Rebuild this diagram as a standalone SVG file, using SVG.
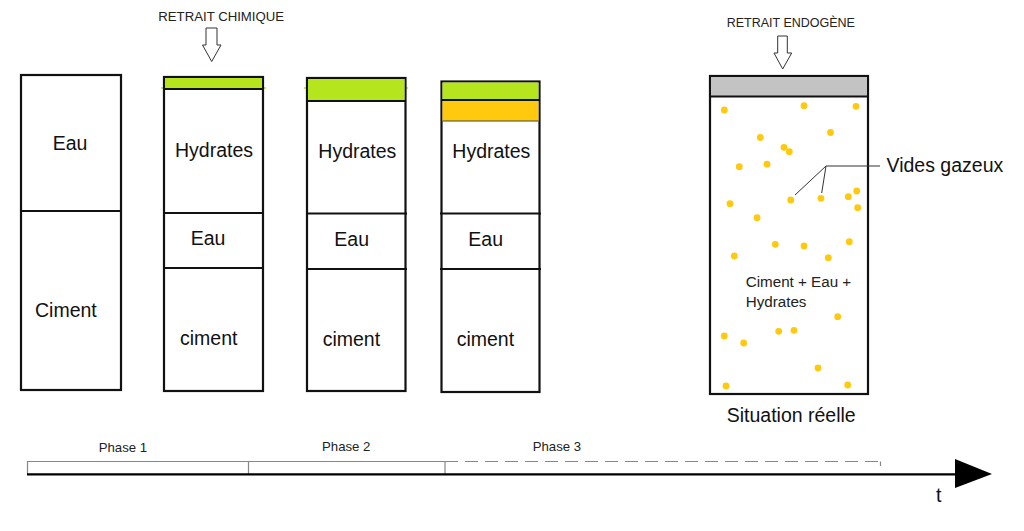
<svg xmlns="http://www.w3.org/2000/svg" width="1024" height="531" viewBox="0 0 1024 531">
<style>
.box{fill:#fff;stroke:#111;stroke-width:2.2}
.div{stroke:#111;stroke-width:2}
.lbl{font-family:"Liberation Sans",Arial,sans-serif;font-size:19.5px;fill:#111}
.sm{font-family:"Liberation Sans",Arial,sans-serif;fill:#222}
.dot{fill:#ffc90e}
.hollow{fill:#fff;stroke:#333;stroke-width:1}
.lead{stroke:#333;stroke-width:1;fill:none}
.tl{stroke:#888;stroke-width:1.2;fill:none}
</style>
<rect width="1024" height="531" fill="#fff"/>

<g id="col1">
<rect class="box" x="21" y="75" width="100" height="315"/>
<line class="div" x1="20" y1="211" x2="122" y2="211"/>
<text class="lbl" x="52.7" y="150">Eau</text>
<text class="lbl" x="35" y="317">Ciment</text>
</g>

<g id="col2">
<line x1="161" y1="88" x2="266" y2="88" stroke="#b5e61d" stroke-width="1.5"/>
<rect class="box" x="164" y="77" width="99" height="314"/>
<rect x="165" y="78" width="97" height="10" fill="#b5e61d"/>
<line class="div" x1="164" y1="89" x2="263" y2="89"/>
<line class="div" x1="163" y1="213" x2="264" y2="213"/>
<line class="div" x1="163" y1="268" x2="264" y2="268"/>
<text class="lbl" x="175" y="157">Hydrates</text>
<text class="lbl" x="190.7" y="245">Eau</text>
<text class="lbl" x="180" y="345">ciment</text>
</g>

<g id="col3">
<line x1="304" y1="88" x2="408" y2="88" stroke="#b5e61d" stroke-width="1.5"/>
<rect class="box" x="307" y="78" width="98.5" height="313"/>
<rect x="308" y="79" width="96.5" height="21" fill="#b5e61d"/>
<line class="div" x1="307" y1="101" x2="405.5" y2="101"/>
<line class="div" x1="306" y1="213.5" x2="407" y2="213.5"/>
<line class="div" x1="306" y1="269" x2="407" y2="269"/>
<text class="lbl" x="318.3" y="157.5">Hydrates</text>
<text class="lbl" x="334.3" y="246">Eau</text>
<text class="lbl" x="322.7" y="345.5">ciment</text>
</g>

<g id="col4">
<rect class="box" x="441.5" y="81.5" width="98" height="310.5"/>
<rect x="442.5" y="82.5" width="96" height="17" fill="#b5e61d"/>
<line class="div" x1="441.5" y1="100" x2="539.5" y2="100"/>
<rect x="442.5" y="101" width="96" height="20" fill="#ffc90e"/>
<line x1="442.5" y1="121" x2="538.5" y2="121" stroke="#444" stroke-width="1"/>
<line class="div" x1="440" y1="213.5" x2="541" y2="213.5"/>
<line class="div" x1="440" y1="269" x2="541" y2="269"/>
<text class="lbl" x="452.3" y="157.5">Hydrates</text>
<text class="lbl" x="468.3" y="246">Eau</text>
<text class="lbl" x="456.7" y="345.5">ciment</text>
</g>

<g id="reel">
<rect class="box" x="710" y="76" width="158" height="318"/>
<rect x="711" y="77" width="156" height="19" fill="#c3c3c3"/>
<line class="div" x1="710" y1="96.5" x2="868" y2="96.5"/>
<g id="vides">
<circle class="dot" cx="724.3" cy="110" r="3.4"/>
<circle class="dot" cx="804" cy="105.7" r="3.4"/>
<circle class="dot" cx="856" cy="106.3" r="3.4"/>
<circle class="dot" cx="760.3" cy="137.5" r="3.4"/>
<circle class="dot" cx="830.5" cy="132.5" r="3.4"/>
<circle class="dot" cx="784" cy="147.3" r="3.4"/>
<circle class="dot" cx="789.3" cy="151.7" r="3.4"/>
<circle class="dot" cx="739.3" cy="166.7" r="3.4"/>
<circle class="dot" cx="767" cy="164.2" r="3.4"/>
<circle class="dot" cx="790.7" cy="200" r="3.4"/>
<circle class="dot" cx="821" cy="198.3" r="3.4"/>
<circle class="dot" cx="848.3" cy="196.7" r="3.4"/>
<circle class="dot" cx="856.7" cy="191" r="3.4"/>
<circle class="dot" cx="857.7" cy="207.7" r="3.4"/>
<circle class="dot" cx="730" cy="203.7" r="3.4"/>
<circle class="dot" cx="757" cy="217.7" r="3.4"/>
<circle class="dot" cx="775.3" cy="244.3" r="3.4"/>
<circle class="dot" cx="804" cy="246" r="3.4"/>
<circle class="dot" cx="828.3" cy="257.7" r="3.4"/>
<circle class="dot" cx="849.3" cy="241.7" r="3.4"/>
<circle class="dot" cx="734.3" cy="256" r="3.4"/>
<circle class="dot" cx="724.3" cy="336" r="3.4"/>
<circle class="dot" cx="743.7" cy="343" r="3.4"/>
<circle class="dot" cx="778.7" cy="331.3" r="3.4"/>
<circle class="dot" cx="794" cy="330.3" r="3.4"/>
<circle class="dot" cx="837.7" cy="316.7" r="3.4"/>
<circle class="dot" cx="818" cy="368" r="3.4"/>
<circle class="dot" cx="726" cy="386" r="3.4"/>
<circle class="dot" cx="847.7" cy="385" r="3.4"/>
</g>
<text class="sm" x="745.7" y="286.7" font-size="15.2">Ciment + Eau +</text>
<text class="sm" x="745.7" y="306.7" font-size="15.2">Hydrates</text>
<text class="lbl" x="726.7" y="421.7" font-size="20.5">Situation réelle</text>
</g>

<g id="labels">
<text class="sm" x="158.3" y="21" font-size="13.2">RETRAIT CHIMIQUE</text>
<text class="sm" x="726.7" y="27" font-size="12.5">RETRAIT ENDOGÈNE</text>
<text class="lbl" x="886.5" y="171.5">Vides gazeux</text>
</g>

<g id="connectors">
<polygon class="hollow" points="206,28 217,28 217,45 221,45 211.7,61.5 202.5,45 206,45"/>
<polygon class="hollow" points="777.7,36 787.3,36 787.3,53 791.7,53 782.7,69 774,53 777.7,53"/>
<polyline class="lead" points="795,195 826,166 880,166"/>
<line class="lead" x1="821.7" y1="193" x2="826" y2="166"/>
</g>

<g id="timeline">
<polyline class="tl" points="27.5,474 27.5,461.5 248.5,461.5 248.5,474"/>
<polyline class="tl" points="248.5,461.5 445,461.5 445,474"/>
<line class="tl" x1="445" y1="461.5" x2="880" y2="461.5" stroke-dasharray="13 7"/>
<line class="tl" x1="880.5" y1="461.5" x2="880.5" y2="466"/>
<line x1="27" y1="474.3" x2="960" y2="474.3" stroke="#000" stroke-width="2.2"/>
<polygon points="955,459 992,474 955,488" fill="#000"/>
<text class="sm" x="98.7" y="451.5" font-size="13.2">Phase 1</text>
<text class="sm" x="322" y="451" font-size="13.2">Phase 2</text>
<text class="sm" x="532.7" y="451" font-size="13.2">Phase 3</text>
<text class="lbl" x="936" y="502" font-size="20">t</text>
</g>
</svg>
